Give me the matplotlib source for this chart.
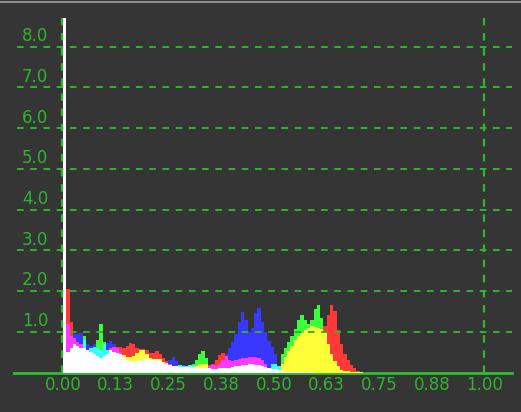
import numpy as np
import matplotlib
matplotlib.use('Agg')
import matplotlib.pyplot as plt
from matplotlib.lines import Line2D

# Histogram bins (width 1/128), values per channel
bin_width = 1 / 128
red = [8.7, 2.05, 1.25, 0.85, 0.75, 0.70, 0.60, 0.55, 0.50, 0.45,
       0.40, 0.35, 0.40, 0.45, 0.60, 0.62, 0.62, 0.62, 0.60, 0.65,
       0.72, 0.70, 0.60, 0.58, 0.58, 0.55, 0.48, 0.47, 0.52, 0.45,
       0.35, 0.28, 0.20, 0.17, 0.15, 0.14, 0.14, 0.13, 0.13, 0.13,
       0.16, 0.20, 0.22, 0.20, 0.18, 0.22, 0.30, 0.42, 0.48, 0.40,
       0.30, 0.28, 0.30, 0.32, 0.35, 0.36, 0.38, 0.38, 0.37, 0.35,
       0.30, 0.20, 0.10, 0.08, 0.08, 0.05, 0.20, 0.38, 0.52, 0.65,
       0.80, 0.90, 0.98, 1.05, 1.10, 1.14, 1.12, 1.10, 1.08, 1.15,
       1.40, 1.66, 1.50, 1.05, 0.70, 0.45, 0.30, 0.18, 0.10, 0.04,
       0.01, 0.00]
green = [8.7, 0.50, 0.60, 0.70, 0.65, 0.60, 0.90, 0.55, 0.60, 0.62,
         0.80, 1.20, 0.75, 0.55, 0.55, 0.50, 0.48, 0.45, 0.42, 0.39,
         0.38, 0.40, 0.48, 0.56, 0.55, 0.45, 0.35, 0.33, 0.33, 0.32,
         0.27, 0.24, 0.19, 0.16, 0.15, 0.18, 0.17, 0.17, 0.18, 0.20,
         0.30, 0.45, 0.52, 0.35, 0.10, 0.09, 0.09, 0.10, 0.10, 0.10,
         0.12, 0.13, 0.15, 0.17, 0.18, 0.18, 0.20, 0.20, 0.19, 0.18,
         0.16, 0.13, 0.12, 0.22, 0.22, 0.15, 0.45, 0.60, 0.75, 0.90,
         1.08, 1.30, 1.42, 1.30, 1.20, 1.30, 1.55, 1.66, 1.35, 1.00,
         0.70, 0.45, 0.28, 0.15, 0.07, 0.04, 0.03, 0.02, 0.02, 0.01,
         0.01, 0.00]
blue = [8.7, 1.20, 0.90, 0.95, 0.95, 0.98, 0.80, 0.70, 0.65, 0.70,
        0.60, 0.55, 0.70, 0.72, 0.78, 0.70, 0.60, 0.50, 0.38, 0.31,
        0.28, 0.27, 0.28, 0.30, 0.33, 0.32, 0.30, 0.31, 0.30, 0.28,
        0.24, 0.22, 0.30, 0.39, 0.28, 0.18, 0.18, 0.17, 0.18, 0.16,
        0.13, 0.11, 0.10, 0.12, 0.17, 0.18, 0.16, 0.20, 0.30, 0.45,
        0.60, 0.75, 0.95, 1.25, 1.49, 1.30, 1.00, 1.10, 1.45, 1.59,
        1.25, 1.00, 0.78, 0.62, 0.45, 0.15, 0.03, 0.02, 0.02, 0.01,
        0.01, 0.01, 0.01, 0.01, 0.01, 0.01, 0.00, 0.00, 0.00, 0.00,
        0.00, 0.00, 0.00, 0.00, 0.00, 0.00, 0.00, 0.00, 0.00, 0.00,
        0.00, 0.00]

x_ticks = [0.0, 0.125, 0.25, 0.375, 0.5, 0.625, 0.75, 0.875, 1.0]
x_tick_labels = ['0.00', '0.13', '0.25', '0.38', '0.50', '0.63', '0.75', '0.88', '1.00']
y_ticks = [1, 2, 3, 4, 5, 6, 7, 8]
y_tick_labels = ['1.0', '2.0', '3.0', '4.0', '5.0', '6.0', '7.0', '8.0']

bg = '#353535'
line_green = '#2fb52f'
chan_colors = {
    (1, 0, 0): '#ff3838', (0, 1, 0): '#38ff38', (0, 0, 1): '#3838ff',
    (1, 1, 0): '#ffff38', (1, 0, 1): '#ff38ff', (0, 1, 1): '#38ffff',
}
plt.rcParams['font.family'] = ['Liberation Sans Narrow', 'DejaVu Sans']

W, H = 521, 412
fig = plt.figure(figsize=(W / 100, H / 100), dpi=100, facecolor=bg)
ax = fig.add_axes([14 / W, (H - 372.5) / H, (512 - 14) / W, (372.5 - 17) / H])
ax.set_facecolor('none')
ax.set_xlim(-0.116, 1.064)
ax.set_ylim(0, 8.73)
for s in ax.spines.values():
    s.set_visible(False)
ax.set_yticks([])

# additive RGB composite: white where all overlap, mixed where two overlap
vals = np.array([red, green, blue])
edges = np.arange(vals.shape[1]) * bin_width
order = np.argsort(vals, axis=0)
srt = np.sort(vals, axis=0)
low, mid, high = srt[0], srt[1], srt[2]
mid_cols, top_cols = [], []
for i in range(vals.shape[1]):
    key = [1, 1, 1]
    key[order[0, i]] = 0
    mid_cols.append(chan_colors[tuple(key)])
    key = [0, 0, 0]
    key[order[2, i]] = 1
    top_cols.append(chan_colors[tuple(key)])

kw = dict(width=bin_width, align='edge', linewidth=0, antialiased=False, zorder=2)
ax.bar(edges, low, color='white', **kw)
ax.bar(edges, mid - low, bottom=low, color=mid_cols, **kw)
ax.bar(edges, high - mid, bottom=mid, color=top_cols, **kw)

dash = (0, (3.4, 3.4))
for yv in y_ticks:
    ax.plot([-0.11, 1.064], [yv, yv], color=line_green, lw=1.4, ls=dash, zorder=3)
for xv in [0.0, 1.0]:
    ax.plot([xv - 0.002, xv - 0.002], [0, 8.73], color=line_green, lw=1.6, ls=dash,
            zorder=3, clip_on=False)
ax.plot([-0.116, 1.064], [0, 0], color='#2fbf2f', lw=2, zorder=1, clip_on=False)

for yv, lab in zip(y_ticks, y_tick_labels):
    ax.text(-0.035, yv + 0.04, lab, color=line_green, fontsize=12,
            ha='right', va='bottom')

ax.set_xticks(x_ticks)
ax.set_xticklabels(x_tick_labels)
ax.tick_params(axis='x', length=0, pad=2.5, labelcolor=line_green, labelsize=12)

fig.add_artist(Line2D([0, 1], [1 - 1.5 / H, 1 - 1.5 / H], color='#8c8c8c', lw=1.5))

fig.savefig('out.png', dpi=100, facecolor=bg)
